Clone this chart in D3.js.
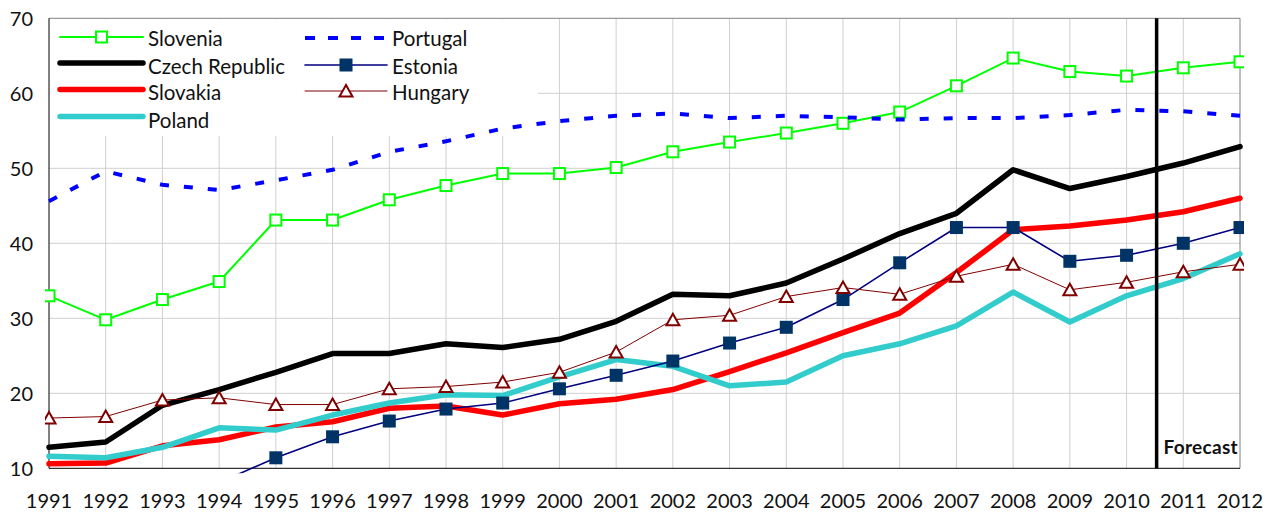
<!DOCTYPE html>
<html lang="en">
<head>
<meta charset="utf-8">
<title>Lines by country 1991-2012</title>
<script src="https://d3js.org/d3.v7.min.js"></script>
<style>
  body { margin: 0; background: white; }
  svg text { font-family: Lato, "Open Sans", sans-serif; fill: #111; }
</style>
</head>
<body>
<script>
var years = [1991, 1992, 1993, 1994, 1995, 1996, 1997, 1998, 1999, 2000, 2001,
             2002, 2003, 2004, 2005, 2006, 2007, 2008, 2009, 2010, 2011, 2012];
var yTicks = [10, 20, 30, 40, 50, 60, 70];

var slovenia = [33.0, 29.8, 32.5, 34.9, 43.1, 43.1, 45.8, 47.7, 49.3, 49.3, 50.1,
                52.2, 53.5, 54.7, 56.0, 57.5, 61.0, 64.7, 62.9, 62.3, 63.4, 64.2];
var czech = [12.8, 13.5, 18.4, 20.5, 22.8, 25.3, 25.3, 26.6, 26.1, 27.2, 29.6,
             33.2, 33.0, 34.7, 37.9, 41.3, 44.0, 49.8, 47.3, 48.9, 50.7, 52.9];
var slovakia = [10.6, 10.7, 13.0, 13.8, 15.5, 16.2, 18.0, 18.3, 17.1, 18.6, 19.2,
                20.5, 22.9, 25.4, 28.1, 30.7, 36.1, 41.8, 42.3, 43.1, 44.2, 46.0];
var poland = [11.6, 11.4, 12.8, 15.4, 15.1, 17.1, 18.7, 19.8, 19.7, 22.2, 24.5,
              23.6, 21.0, 21.5, 25.0, 26.6, 29.0, 33.5, 29.5, 33.0, 35.3, 38.6];
var portugal = [45.6, 49.6, 47.8, 47.1, 48.4, 49.8, 52.2, 53.6, 55.3, 56.3, 57.0,
                57.3, 56.7, 57.0, 56.8, 56.5, 56.7, 56.7, 57.1, 57.8, 57.6, 57.0];
var estonia = [null, null, null, 8.1, 11.4, 14.2, 16.3, 17.9, 18.7, 20.6, 22.4,
               24.3, 26.7, 28.8, 32.5, 37.4, 42.1, 42.1, 37.6, 38.4, 40.0, 42.1];
var hungary = [16.7, 16.9, 19.1, 19.4, 18.5, 18.5, 20.6, 20.9, 21.5, 22.8, 25.5,
               29.8, 30.4, 32.9, 34.1, 33.2, 35.6, 37.2, 33.8, 34.8, 36.2, 37.2];
var forecastFrom = 2010.53;

// drawing order = series order
var series = [
  {name: "Slovenia", values: slovenia, color: "#00ff00", width: 2, marker: "square", fill: "white"},
  {name: "Czech Republic", values: czech, color: "#000000", width: 5.5},
  {name: "Slovakia", values: slovakia, color: "#ff0000", width: 5.5},
  {name: "Poland", values: poland, color: "#33cccc", width: 5.5},
  {name: "Portugal", values: portugal, color: "#0000ff", width: 4, dash: "9,15"},
  {name: "Estonia", values: estonia, color: "#000080", width: 1.6, marker: "square", fill: "#003366", markerStroke: "#003366"},
  {name: "Hungary", values: hungary, color: "#800000", width: 1, marker: "triangle", fill: "white"}
];

var W = 1271, H = 512;
var pLeft = 49, pRight = 1240, pTop = 18.3, pBottom = 468.3;

var x = d3.scaleLinear().domain([1991, 2012]).range([pLeft, pRight]);
var y = d3.scaleLinear().domain([10, 70]).range([pBottom, pTop]);

var svg = d3.select("body").append("svg")
    .attr("width", W)
    .attr("height", H);

svg.append("defs").append("clipPath")
    .attr("id", "plotclip")
  .append("rect")
    .attr("x", pLeft - 4).attr("y", pTop)
    .attr("width", pRight - pLeft + 8).attr("height", pBottom - pTop + 5);

// grid
svg.append("g").selectAll("line")
    .data(yTicks.slice(1, -1))
    .enter().append("line")
    .attr("x1", pLeft).attr("x2", pRight)
    .attr("y1", function(d) { return y(d); })
    .attr("y2", function(d) { return y(d); })
    .attr("stroke", "#d0d0d0").attr("stroke-width", 1);

svg.append("g").selectAll("line")
    .data(years.slice(1, -1))
    .enter().append("line")
    .attr("y1", pTop).attr("y2", pBottom)
    .attr("x1", function(d) { return x(d); })
    .attr("x2", function(d) { return x(d); })
    .attr("stroke", "#d0d0d0").attr("stroke-width", 1);

// frame: top / right grey, axes black
svg.append("line").attr("x1", pLeft).attr("x2", pRight).attr("y1", pTop).attr("y2", pTop)
    .attr("stroke", "#808080");
svg.append("line").attr("x1", pRight).attr("x2", pRight).attr("y1", pTop).attr("y2", pBottom)
    .attr("stroke", "#808080");

// legend box hides the grid
svg.append("rect")
    .attr("x", pLeft + 1).attr("y", pTop + 1)
    .attr("width", 537 - pLeft).attr("height", 135 - pTop)
    .attr("fill", "white");

svg.append("line").attr("x1", pLeft).attr("x2", pLeft).attr("y1", pTop).attr("y2", pBottom)
    .attr("stroke", "black");
svg.append("line").attr("x1", pLeft).attr("x2", pRight).attr("y1", pBottom).attr("y2", pBottom)
    .attr("stroke", "black");

// tick labels
svg.append("g").selectAll("text")
    .data(yTicks)
    .enter().append("text")
    .attr("x", 33)
    .attr("y", function(d) { return y(d) + 8; })
    .attr("text-anchor", "end")
    .attr("font-size", 20)
    .text(function(d) { return d; });

svg.append("g").selectAll("text")
    .data(years)
    .enter().append("text")
    .attr("x", function(d) { return x(d); })
    .attr("y", 507.5)
    .attr("text-anchor", "middle")
    .attr("font-size", 20)
    .text(function(d) { return d; });

function drawMarker(g, s, cx, cy) {
  if (s.marker == "square") {
    g.append("rect")
      .attr("x", cx - 5.5).attr("y", cy - 5.5)
      .attr("width", 11).attr("height", 11)
      .attr("fill", s.fill)
      .attr("stroke", s.markerStroke || s.color)
      .attr("stroke-width", 2);
  } else if (s.marker == "triangle") {
    g.append("path")
      .attr("d", "M" + cx + "," + (cy - 6) + "L" + (cx + 6.5) + "," + (cy + 5.5) +
                 "L" + (cx - 6.5) + "," + (cy + 5.5) + "Z")
      .attr("fill", s.fill)
      .attr("stroke", s.color)
      .attr("stroke-width", 2);
  }
}

// series
var line = d3.line()
    .defined(function(d) { return d[1] != null; })
    .x(function(d) { return x(d[0]); })
    .y(function(d) { return y(d[1]); });

var plot = svg.append("g").attr("clip-path", "url(#plotclip)");

series.forEach(function(s) {
  var pts = years.map(function(yr, i) { return [yr, s.values[i]]; });
  var g = plot.append("g");
  g.append("path")
    .datum(pts)
    .attr("d", line)
    .attr("fill", "none")
    .attr("stroke", s.color)
    .attr("stroke-width", s.width)
    .attr("stroke-linejoin", s.dash ? "miter" : "round")
    .attr("stroke-linecap", s.dash ? "butt" : "round")
    .attr("stroke-dasharray", s.dash || null);
  if (s.marker) {
    pts.forEach(function(p) {
      if (p[1] == null || y(p[1]) > pBottom) return;
      drawMarker(g, s, x(p[0]), y(p[1]));
    });
  }
});

// forecast marker
svg.append("line")
    .attr("x1", x(forecastFrom)).attr("x2", x(forecastFrom))
    .attr("y1", pTop).attr("y2", pBottom)
    .attr("stroke", "black").attr("stroke-width", 3.5);
svg.append("text")
    .attr("x", 1238).attr("y", 454)
    .attr("text-anchor", "end")
    .attr("font-size", 19)
    .attr("font-weight", "bold")
    .attr("letter-spacing", 0.3)
    .text("Forecast");

// legend, two columns
var legendPos = [
  {x: 60, ly: 37, ty: 46}, {x: 60, ly: 63, ty: 74}, {x: 60, ly: 89.5, ty: 100}, {x: 60, ly: 116.5, ty: 128},
  {x: 305, ly: 38, ty: 46}, {x: 305, ly: 65, ty: 74}, {x: 305, ly: 91, ty: 100}
];
series.forEach(function(s, i) {
  var p = legendPos[i];
  var g = svg.append("g");
  var len = i < 4 ? 83 : 82;
  g.append("line")
    .attr("x1", p.x).attr("x2", p.x + len)
    .attr("y1", p.ly).attr("y2", p.ly)
    .attr("stroke", s.color)
    .attr("stroke-width", s.width)
    .attr("stroke-linecap", s.dash ? "butt" : "round")
    .attr("stroke-dasharray", s.dash ? "10,13" : null);
  if (s.marker) drawMarker(g, s, p.x + len / 2, p.ly);
  g.append("text")
    .attr("x", p.x + len + 5)
    .attr("y", p.ty)
    .attr("font-size", 20.5)
    .text(s.name);
});
</script>
</body>
</html>
